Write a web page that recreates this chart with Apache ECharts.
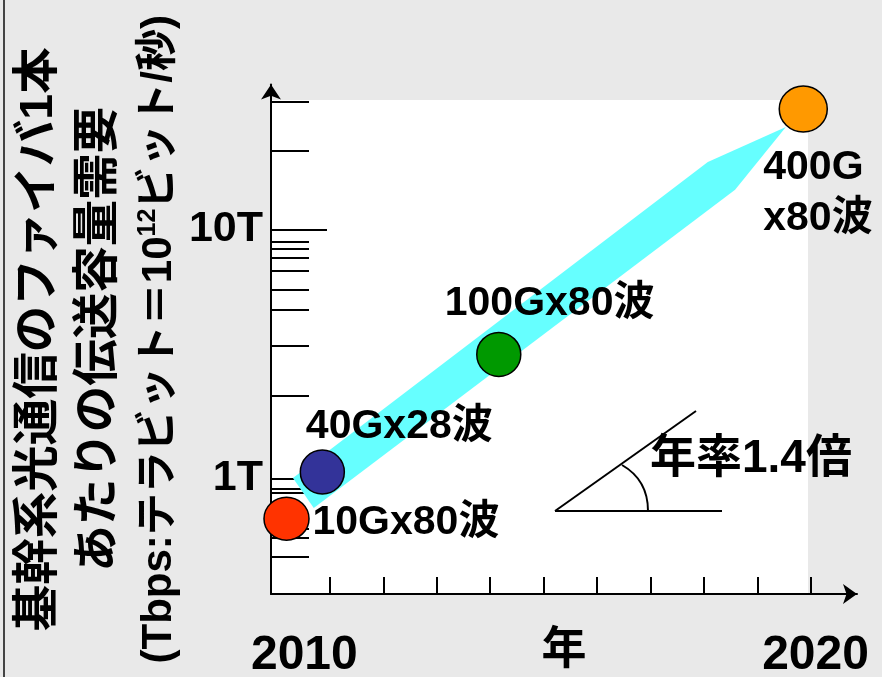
<!DOCTYPE html>
<html>
<head>
<meta charset="utf-8">
<script src="https://cdn.jsdelivr.net/npm/echarts@6/dist/echarts.min.js"></script>
<style>
html,body{margin:0;padding:0;background:#e9e9e9;}
#chart{width:882px;height:677px;}
</style>
</head>
<body>
<div id="chart"></div>
<script>
// ---- data ----
const pointNames = ['10Gx80波', '40Gx28波', '100Gx80波', '400G\nx80波'];
const pointYears = [2010.19, 2010.86, 2014.16, 2019.855];
const pointCapacity = [0.69, 1.062, 3.146, 30.4];           // Tbps

const bandYears = [2010.31, 2018.07, 2019.53, 2018.58, 2010.70];
const bandCapacity = [1.005, 18.6, 25.7, 14.4, 0.761];       // Tbps

const yMinorTicks = [0.484, 0.577, 0.63, 0.88, 0.908, 2.14, 3.40, 4.75, 5.71, 6.82, 7.69, 8.34, 8.95, 20.6, 32.5];
const yMajorTicks = [1, 10];
const yTickLabels = ['1T', '10T'];
const xTicks = [2011, 2012, 2013, 2014, 2015, 2016, 2017, 2018, 2019, 2020];
const xTickLabels = [2010, 2020];

const yTitle = ['基幹系光通信のファイバ1本', 'あたりの伝送容量需要', '(Tbps:テラビット＝10', '12', 'ビット/秒)'];
const xTitle = '年';
const rateText = '年率1.4倍';

// ---- styles ----
const FONT = "'Liberation Sans','Noto Sans CJK JP',sans-serif";
const pointColors = ['#ff3300', '#333399', '#009900', '#ff9900'];
const pointSizes = [[45, 43], [44, 44], [44, 44], [48, 46]];
const labelOffsets = [[26, 4], [-16.5, -45], [-54, -50.5], [-40, 84.5]];

const chart = echarts.init(document.getElementById('chart'), null, {renderer: 'canvas'});

const yRange = {min: 0.344, max: 38.1};
const xRange = {min: 2009.9, max: 2020.86};

const scatterData = pointYears.map((y, i) => ({
  value: [y, pointCapacity[i]],
  name: pointNames[i],
  symbolSize: pointSizes[i],
  itemStyle: {color: pointColors[i]}
}));

const option = {
  backgroundColor: '#e9e9e9',
  animation: false,
  grid: {left: 271, right: 25, top: 84.5, bottom: 83, containLabel: false, outerBoundsMode: 'none'},
  xAxis: {
    type: 'value',
    min: xRange.min, max: xRange.max,
    axisLine: {show: true, symbol: ['none', 'arrow'], symbolSize: [15, 14], lineStyle: {color: '#000', width: 2}},
    axisTick: {show: true, inside: true, length: 17, customValues: xTicks, lineStyle: {color: '#000', width: 2}},
    axisLabel: {
      show: true, customValues: xTickLabels, margin: 38,
      formatter: v => (v === xTickLabels[0] ? '{a|' + v + '}' : '{b|' + v + '}'),
      rich: {
        a: {fontSize: 48, fontWeight: 'bold', fontFamily: FONT, color: '#000', lineHeight: 48, padding: [0, 0, 0, 56]},
        b: {fontSize: 48, fontWeight: 'bold', fontFamily: FONT, color: '#000', lineHeight: 48, padding: [0, 0, 0, 9]}
      }
    },
    splitLine: {show: false},
    name: xTitle, nameLocation: 'middle', nameGap: 35, nameMoveOverlap: false,
    nameTextStyle: {fontSize: 45, fontWeight: 'bold', fontFamily: FONT, color: '#000', lineHeight: 45}
  },
  yAxis: [{
    type: 'log', logBase: 10,
    min: yRange.min, max: yRange.max,
    axisLine: {show: true, symbol: ['none', 'arrow'], symbolSize: [15, 15], lineStyle: {color: '#000', width: 2}},
    axisTick: {show: true, inside: true, length: 38, customValues: yMinorTicks, lineStyle: {color: '#000', width: 2}},
    axisLabel: {
      show: true, customValues: yMajorTicks, margin: 8,
      formatter: v => yTickLabels[yMajorTicks.indexOf(v)] || '',
      fontSize: 43, fontWeight: 'bold', fontFamily: FONT, color: '#000', padding: [0, 0, 8, 0]
    },
    splitLine: {show: false},
    minorTick: {show: false},
    name: '{t|' + yTitle[0] + '}\n{t|' + yTitle[1] + '}\n{u|' + yTitle[2] + '}{s|' + yTitle[3] + '}{u|' + yTitle[4] + '}',
    nameLocation: 'middle', nameRotate: 90, nameGap: 82, nameMoveOverlap: false,
    nameTextStyle: {
      rich: {
        t: {fontSize: 46.5, fontWeight: 'bold', fontFamily: FONT, color: '#000', lineHeight: 60},
        u: {fontSize: 42, fontWeight: 'bold', fontFamily: FONT, color: '#000', lineHeight: 60},
        s: {fontSize: 25, fontWeight: 'bold', fontFamily: FONT, color: '#000', lineHeight: 60, padding: [0, 0, 22, 0]}
      }
    }
  }, {
    type: 'log', logBase: 10,
    min: yRange.min, max: yRange.max,
    position: 'left',
    axisLine: {show: false},
    axisTick: {show: true, inside: true, length: 56, customValues: yMajorTicks, lineStyle: {color: '#000', width: 2}},
    axisLabel: {show: false},
    splitLine: {show: false}
  }],
  graphic: [
    {type: 'rect', z: -10, silent: true, shape: {x: 271, y: 100, width: 537, height: 494}, style: {fill: '#ffffff'}},
    {type: 'line', silent: true, shape: {x1: 4, y1: 0, x2: 4, y2: 677}, style: {stroke: '#444', lineWidth: 2}},
    {type: 'line', silent: true, shape: {x1: 555, y1: 511, x2: 696, y2: 411}, style: {stroke: '#000', lineWidth: 2}},
    {type: 'line', silent: true, shape: {x1: 555, y1: 511, x2: 722, y2: 511}, style: {stroke: '#000', lineWidth: 2}},
    {type: 'bezierCurve', silent: true, shape: {x1: 622, y1: 465, cpx1: 648, cpy1: 480, x2: 648, y2: 511}, style: {stroke: '#000', lineWidth: 2, fill: null}},
    {type: 'text', silent: true, x: 650, y: 459, style: {text: rateText, font: 'bold 46px ' + FONT, fill: '#000', textAlign: 'left', textVerticalAlign: 'middle'}}
  ],
  series: [{
    type: 'custom',
    silent: true,
    z: 1,
    data: [[bandYears[0], bandCapacity[0]]],
    renderItem: (params, api) => {
      const pts = bandYears.map((y, i) => api.coord([y, bandCapacity[i]]));
      return {type: 'polygon', shape: {points: pts}, style: {fill: '#66ffff', stroke: null}};
    }
  }, {
    type: 'scatter',
    z: 3,
    symbol: 'circle',
    itemStyle: {borderColor: '#000', borderWidth: 1.5, opacity: 1},
    label: {
      show: true, position: 'inside', align: 'left', verticalAlign: 'middle',
      formatter: p => p.name,
      fontSize: 41, fontWeight: 'bold', fontFamily: FONT, color: '#000', lineHeight: 51
    },
    labelLayout: p => ({dx: labelOffsets[p.dataIndex][0], dy: labelOffsets[p.dataIndex][1], hideOverlap: false}),
    data: scatterData
  }]
};

chart.setOption(option);
</script>
</body>
</html>
